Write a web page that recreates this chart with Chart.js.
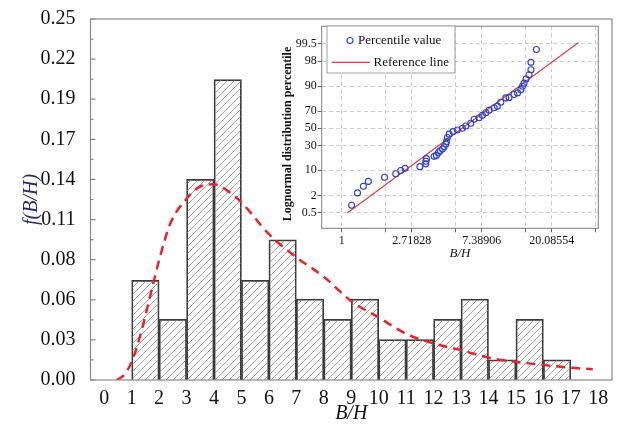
<!DOCTYPE html>
<html>
<head>
<meta charset="utf-8">
<script src="https://cdn.jsdelivr.net/npm/chart.js@4.4.1/dist/chart.umd.min.js"></script>
<style>
  html, body { margin: 0; padding: 0; background: #fff; }
  #wrap { position: relative; width: 622px; height: 425px; }
  #mainChart { position: absolute; left: 0; top: 0; }
  #insetChart { position: absolute; left: 270px; top: 18px; }
</style>
</head>
<body>
<div id="wrap">
  <canvas id="mainChart" width="622" height="425"></canvas>
  <canvas id="insetChart" width="340" height="250"></canvas>
</div>
<script>
// --- main histogram data ---
const binStart = [1, 2, 3, 4, 5, 6, 7, 8, 9, 10, 11, 12, 13, 14, 15, 16];
const freq = [0.069, 0.042, 0.139, 0.208, 0.069, 0.097, 0.056, 0.042, 0.056, 0.028, 0.028, 0.042, 0.056, 0.014, 0.042, 0.014];
const yTickLabels = ['0.00', '0.03', '0.06', '0.08', '0.11', '0.14', '0.17', '0.19', '0.22', '0.25'];

// fitted lognormal density (red dashed)
const fitX = [0.45, 0.7, 1.0, 1.3, 1.75, 2.0, 2.4, 3.0, 3.5, 4.0, 4.5, 5.0, 6.0, 7.0, 8.0, 9.0, 10, 11, 12, 13, 14, 15, 16, 17, 17.8];
const fitY = [0, 0.003, 0.0126, 0.03, 0.064, 0.083, 0.108, 0.1255, 0.134, 0.1355, 0.131, 0.123, 0.101, 0.085, 0.0715, 0.0546, 0.0433, 0.032, 0.0253, 0.0207, 0.0155, 0.0126, 0.0104, 0.0085, 0.0075];

// --- inset probability plot data ---
const sampleBH = [1.15, 1.25, 1.36, 1.46, 1.84, 2.16, 2.32, 2.47, 3.05, 3.32, 3.32, 3.35, 3.74, 3.86, 3.97, 4.07, 4.21, 4.31, 4.42, 4.46, 4.52, 4.63, 4.90, 5.21, 5.60, 5.88, 6.31, 6.62, 7.11, 7.45, 7.82, 8.20, 8.81, 9.23, 9.69, 10.4, 10.9, 11.7, 12.3, 12.9, 13.2, 13.5, 13.9, 14.5, 14.9, 14.9, 16.1];
const samplePct = [0.93, 2.4, 3.8, 5.2, 6.7, 8.2, 9.8, 11.0, 12.0, 13.8, 15.6, 17.6, 19.5, 20.3, 22.7, 24.6, 26.2, 28.5, 31.4, 34.2, 38.8, 42.8, 45.9, 47.9, 50.0, 52.8, 56.0, 60.8, 62.6, 65.3, 68.2, 71.0, 73.4, 75.0, 78.7, 82.3, 82.5, 84.9, 86.0, 88.1, 90.0, 91.6, 93.4, 94.9, 96.3, 97.8, 99.2];
const refBH = [1.08, 29.4];
const refPct = [0.48, 99.56];
const pctTicks = [0.5, 2, 10, 30, 50, 70, 90, 98, 99.5];
const pctTickLabels = ['0.5', '2', '10', '30', '50', '70', '90', '98', '99.5'];
const bhTicks = [1, 1.85914, 2.71828, 5.05367, 7.38906, 13.73730, 20.08554, 37.34155];
const bhTickLabels = ['1', '', '2.71828', '', '7.38906', '', '20.08554', ''];

Chart.defaults.font.family = '"Liberation Serif", "Times New Roman", serif';
Chart.defaults.color = '#111';

// inverse standard normal cdf (Acklam), used for the probability axis
function probit(p) {
    const a = [-3.969683028665376e+01, 2.209460984245205e+02, -2.759285104469687e+02, 1.383577518672690e+02, -3.066479806614716e+01, 2.506628277459239e+00];
    const b = [-5.447609879822406e+01, 1.615858368580409e+02, -1.556989798598866e+02, 6.680131188771972e+01, -1.328068155288572e+01];
    const c = [-7.784894002430293e-03, -3.223964580411365e-01, -2.400758277161838e+00, -2.549732539343734e+00, 4.374664141464968e+00, 2.938163982698783e+00];
    const d = [7.784695709041462e-03, 3.224671290700398e-01, 2.445134137142996e+00, 3.754408661907416e+00];
    const pl = 0.02425;
    let q, r;
    if (p < pl) {
        q = Math.sqrt(-2 * Math.log(p));
        return (((((c[0]*q+c[1])*q+c[2])*q+c[3])*q+c[4])*q+c[5]) / ((((d[0]*q+d[1])*q+d[2])*q+d[3])*q+1);
    }
    if (p > 1 - pl) {
        q = Math.sqrt(-2 * Math.log(1 - p));
        return -(((((c[0]*q+c[1])*q+c[2])*q+c[3])*q+c[4])*q+c[5]) / ((((d[0]*q+d[1])*q+d[2])*q+d[3])*q+1);
    }
    q = p - 0.5; r = q * q;
    return (((((a[0]*r+a[1])*r+a[2])*r+a[3])*r+a[4])*r+a[5])*q / (((((b[0]*r+b[1])*r+b[2])*r+b[3])*r+b[4])*r+1);
}

// --- MAIN CHART ---
const mainCtx = document.getElementById('mainChart').getContext('2d');

function makeHatch() {
    const s = 7;
    const c = document.createElement('canvas');
    c.width = s; c.height = s;
    const g = c.getContext('2d');
    g.strokeStyle = '#8c8c8c';
    g.lineWidth = 0.8;
    g.beginPath();
    g.moveTo(0, s); g.lineTo(s, 0);
    g.moveTo(-1, 1); g.lineTo(1, -1);
    g.moveTo(s - 1, s + 1); g.lineTo(s + 1, s - 1);
    g.stroke();
    return mainCtx.createPattern(c, 'repeat');
}

const yMax = 0.25;
const yStep = yMax / (yTickLabels.length - 1);

const mainFrame = {
    id: 'mainFrame',
    afterDraw(chart) {
        const { ctx, chartArea: a, scales: { y } } = chart;
        ctx.save();
        ctx.strokeStyle = '#8a8a8a';
        ctx.lineWidth = 1.2;
        ctx.strokeRect(a.left, a.top, a.right - a.left, a.bottom - a.top);
        // inward ticks on left axis, major + one minor between
        ctx.beginPath();
        y.ticks.forEach((t, i) => {
            const py = y.getPixelForValue(t.value);
            ctx.moveTo(a.left, py); ctx.lineTo(a.left + 5, py);
            if (i < y.ticks.length - 1) {
                const pm = y.getPixelForValue(t.value + yStep / 2);
                ctx.moveTo(a.left, pm); ctx.lineTo(a.left + 3, pm);
            }
        });
        ctx.stroke();
        ctx.restore();
    }
};

new Chart(mainCtx, {
    type: 'bar',
    data: {
        datasets: [{
            type: 'line',
            data: fitX.map((x, i) => ({ x, y: fitY[i] })),
            borderColor: '#e8232a',
            borderWidth: 2.5,
            borderDash: [9, 6],
            pointRadius: 0,
            cubicInterpolationMode: 'monotone',
            fill: false,
            order: 0
        }, {
            type: 'bar',
            data: binStart.map((b, i) => ({ x: b + 0.5, y: freq[i] })),
            backgroundColor: makeHatch(),
            borderColor: '#3a3a3a',
            borderWidth: 1.1,
            barPercentage: 1,
            categoryPercentage: 1,
            order: 1
        }]
    },
    options: {
        responsive: false,
        animation: false,
        layout: { padding: { top: 18, right: 10, left: 0, bottom: 0 } },
        plugins: { legend: { display: false }, tooltip: { enabled: false } },
        scales: {
            x: {
                type: 'linear', min: 0, max: 18,
                afterFit: s => { s.height = 45; },
                grid: { display: false },
                border: { display: false },
                ticks: { stepSize: 1, autoSkip: false, maxRotation: 0, padding: -1, font: { size: 20 }, color: '#111' },
                title: { display: true, text: 'B/H', font: { size: 20, style: 'italic' }, color: '#111', padding: { top: 0, bottom: -1 } }
            },
            y: {
                min: 0, max: yMax,
                afterFit: s => { s.width = 90.5; },
                afterBuildTicks: s => { s.ticks = yTickLabels.map((_, i) => ({ value: i * yStep })); },
                grid: { display: false },
                border: { display: false },
                ticks: { padding: 7, font: { size: 20 }, color: '#111', callback: (v, i) => yTickLabels[i] },
                title: { display: true, text: 'f(B/H)', font: { size: 20, style: 'italic' }, color: '#2b2b66', padding: { top: 20, bottom: 0 } }
            }
        }
    },
    plugins: [mainFrame]
});

// --- INSET ---
const insetCtx = document.getElementById('insetChart').getContext('2d');

const insetDeco = {
    id: 'insetDeco',
    beforeDraw(chart) {
        const { ctx, chartArea: a } = chart;
        ctx.save();
        ctx.fillStyle = '#fff';
        ctx.fillRect(a.left, a.top, a.right - a.left, a.bottom - a.top);
        ctx.restore();
    },
    afterDraw(chart) {
        const { ctx, chartArea: a } = chart;
        ctx.save();
        ctx.strokeStyle = '#7d7d7d';
        ctx.lineWidth = 1;
        ctx.strokeRect(a.left, a.top, a.right - a.left, a.bottom - a.top);

        // y title
        ctx.translate(18.3, 116);
        ctx.rotate(-Math.PI / 2);
        ctx.fillStyle = '#111';
        ctx.font = 'bold 12px "Liberation Serif"';
        ctx.textAlign = 'center';
        ctx.textBaseline = 'middle';
        ctx.fillText('Lognormal distribution percentile', 0, 0);
        ctx.restore();

        // legend box
        ctx.save();
        const lx = 57, ly = 8, lw = 128, lh = 47;
        ctx.fillStyle = '#fff';
        ctx.fillRect(lx, ly, lw, lh);
        ctx.strokeStyle = '#a0a0a0';
        ctx.lineWidth = 1;
        ctx.strokeRect(lx, ly, lw, lh);
        ctx.strokeStyle = '#2b3fd0';
        ctx.lineWidth = 1.1;
        ctx.beginPath();
        ctx.arc(80, 22.5, 3, 0, Math.PI * 2);
        ctx.stroke();
        ctx.strokeStyle = '#e23b3b';
        ctx.lineWidth = 1.2;
        ctx.beginPath();
        ctx.moveTo(61.5, 44.3); ctx.lineTo(100, 44.3);
        ctx.stroke();
        ctx.fillStyle = '#111';
        ctx.font = '13px "Liberation Serif"';
        ctx.textBaseline = 'middle';
        ctx.fillText(chart.data.datasets[1].label, 88, 22.5);
        ctx.fillText(chart.data.datasets[0].label, 103.5, 44.3);
        ctx.restore();
    }
};

new Chart(insetCtx, {
    type: 'scatter',
    data: {
        datasets: [{
            type: 'line',
            label: 'Reference line',
            data: refBH.map((x, i) => ({ x, y: probit(refPct[i] / 100) })),
            borderColor: '#e23b3b',
            borderWidth: 1.2,
            pointRadius: 0,
            fill: false,
            order: 1
        }, {
            label: 'Percentile value',
            data: sampleBH.map((x, i) => ({ x, y: probit(samplePct[i] / 100) })),
            pointStyle: 'circle',
            pointRadius: 3,
            borderColor: '#2b3fd0',
            borderWidth: 1.1,
            backgroundColor: 'rgba(0,0,0,0)',
            order: 0
        }]
    },
    options: {
        responsive: false,
        animation: false,
        layout: { padding: { top: 6, right: 11.7, left: 0, bottom: 0 } },
        plugins: { legend: { display: false }, tooltip: { enabled: false } },
        scales: {
            x: {
                type: 'logarithmic', min: 0.75, max: 39,
                afterFit: s => { s.height = 39.7; },
                afterBuildTicks: s => { s.ticks = bhTicks.map(v => ({ value: v })); },
                grid: { color: '#cdcdcd', lineWidth: 1, drawTicks: true, tickLength: 4, tickColor: '#666', tickBorderDash: [] },
                border: { display: false, dash: [4, 3] },
                ticks: { autoSkip: false, maxRotation: 0, padding: 1, font: { size: 12 }, color: '#111', callback: (v, i) => bhTickLabels[i] },
                title: { display: true, text: 'B/H', font: { size: 13, style: 'italic' }, color: '#111', padding: { top: 0, bottom: 7 } }
            },
            y: {
                type: 'linear', min: -3.06, max: 3.12,
                afterFit: s => { s.width = 51.7; },
                afterBuildTicks: s => { s.ticks = pctTicks.map(p => ({ value: probit(p / 100) })); },
                grid: { color: '#cdcdcd', lineWidth: 1, drawTicks: true, tickLength: 4, tickColor: '#666', tickBorderDash: [] },
                border: { display: false, dash: [4, 3] },
                ticks: { padding: 1, font: { size: 12 }, color: '#111', callback: (v, i) => pctTickLabels[i] }
            }
        }
    },
    plugins: [insetDeco]
});
</script>
</body>
</html>
